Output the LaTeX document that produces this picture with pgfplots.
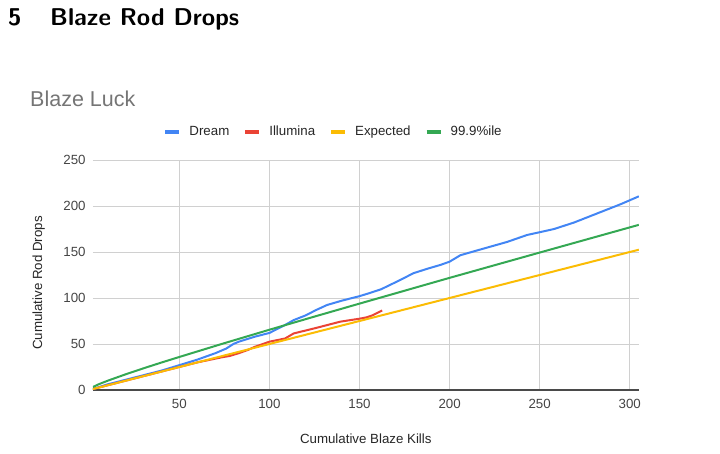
\documentclass[border=0pt]{standalone}
\usepackage{fontspec}
\setmainfont{Liberation Sans}
\usepackage{pgfplots}
\pgfplotsset{compat=1.18}
\definecolor{gblue}{HTML}{4285F4}
\definecolor{gred}{HTML}{EA4335}
\definecolor{gyellow}{HTML}{FBBC04}
\definecolor{ggreen}{HTML}{34A853}
\definecolor{ggrid}{HTML}{D0D0D0}
\definecolor{gaxis}{HTML}{4A4A4A}
\definecolor{gtick}{HTML}{444444}
\definecolor{gtitle}{HTML}{757575}
\begin{document}
\begin{tikzpicture}
\path[use as bounding box] (0pt,0pt) rectangle (720pt,453pt);
\node[anchor=base west, inner sep=0pt] at (8pt,427pt) {\fontsize{24.3}{29}\selectfont\sffamily\bfseries 5};
\node[anchor=base west, inner sep=0pt] at (50pt,427pt) {\fontsize{24.3}{29}\selectfont\sffamily\bfseries Blaze Rod Drops};
\node[anchor=base west, inner sep=0pt, text=gtitle] at (30pt,346.5pt) {\fontsize{21.5}{26}\selectfont Blaze Luck};
\begin{axis}[
  at={(92.8pt,63pt)}, anchor=south west,
  width=546pt, height=230pt, scale only axis,
  xmin=2, xmax=305, ymin=0, ymax=250,
  xtick={50,100,150,200,250,300},
  ytick={0,50,100,150,200,250},
  axis x line*=bottom, axis y line*=left,
  x axis line style={-, draw=gaxis, line width=1.3pt},
  y axis line style={draw=none},
  major tick length=0pt,
  grid=major,
  major grid style={draw=ggrid, line width=0.9pt},
  /pgf/number format/assume math mode=true,
  ticklabel style={font=\fontsize{13.3}{16}\selectfont, text=gtick},
  xticklabel style={anchor=north, inner sep=0pt, yshift=-9pt},
  yticklabel style={anchor=east, inner sep=0pt, xshift=-7pt},
  xlabel={Cumulative Blaze Kills},
  ylabel={Cumulative Rod Drops},
  label style={font=\fontsize{13.3}{16}\selectfont, text=black!85},
  xlabel style={at={(axis description cs:0.5,-0.2317)}, anchor=base, inner sep=0pt},
  ylabel style={at={(axis description cs:-0.093,0.465)}, anchor=base, inner sep=0pt},
  legend columns=4,
  legend cell align=left,
  legend image code/.code={\draw[line width=4pt] (0pt,0pt) -- (14pt,0pt);},
  legend style={at={(axis description cs:0.129,1.123)}, anchor=west,
    draw=none, fill=none, inner sep=0pt,
    font=\fontsize{13.3}{16}\selectfont, text=black!85,
    nodes={inner sep=0pt},
    /tikz/every odd column/.append style={column sep=8pt},
    /tikz/every even column/.append style={column sep=14pt}},
  every axis plot/.append style={line width=2pt, line join=round},
]
\addplot[gblue] coordinates {
(2,1) (10,6) (20,11) (30,16) (40,21) (50,27) (60,33) (70,40) (76,45) (80,50)
(83,52.5) (92,58) (100,62) (109,71) (113.5,76) (120,81) (126,87) (132,92.4)
(140,97) (150,102) (155,105) (162,109.5) (172,119) (180,127) (188,132) (195,136)
(200,139.5) (206,146.5) (214,151) (223,156) (232,161) (243,168.5) (250,171.5)
(258,175) (269,182) (282,192) (295,202) (305,210.5)};
\addlegendentry{Dream}
\addplot[gred] coordinates {
(2,1) (20,10) (40,20) (50,25) (60,30) (73.5,35.5) (78,37) (83,40) (88,43.5)
(92,47) (100,52.5) (108.7,56) (113.5,61.5) (125,67) (139.4,74.3) (150,77.5)
(154,79) (157,81) (162.6,86.5)};
\addlegendentry{Illumina}
\addplot[gyellow] coordinates {(2,1) (305,152.5)};
\addlegendentry{Expected}
\addplot[ggreen] coordinates {
(2,3.2) (5,6) (10,9.9) (20,16.9) (30,23.5) (40,29.8) (50,35.9) (75,50.9)
(100,65.5) (125,79.8) (150,93.9) (175,107.9) (200,121.9) (250,149.4) (305,179.5)};
\addlegendentry{99.9\%ile}
\end{axis}
\end{tikzpicture}
\end{document}
